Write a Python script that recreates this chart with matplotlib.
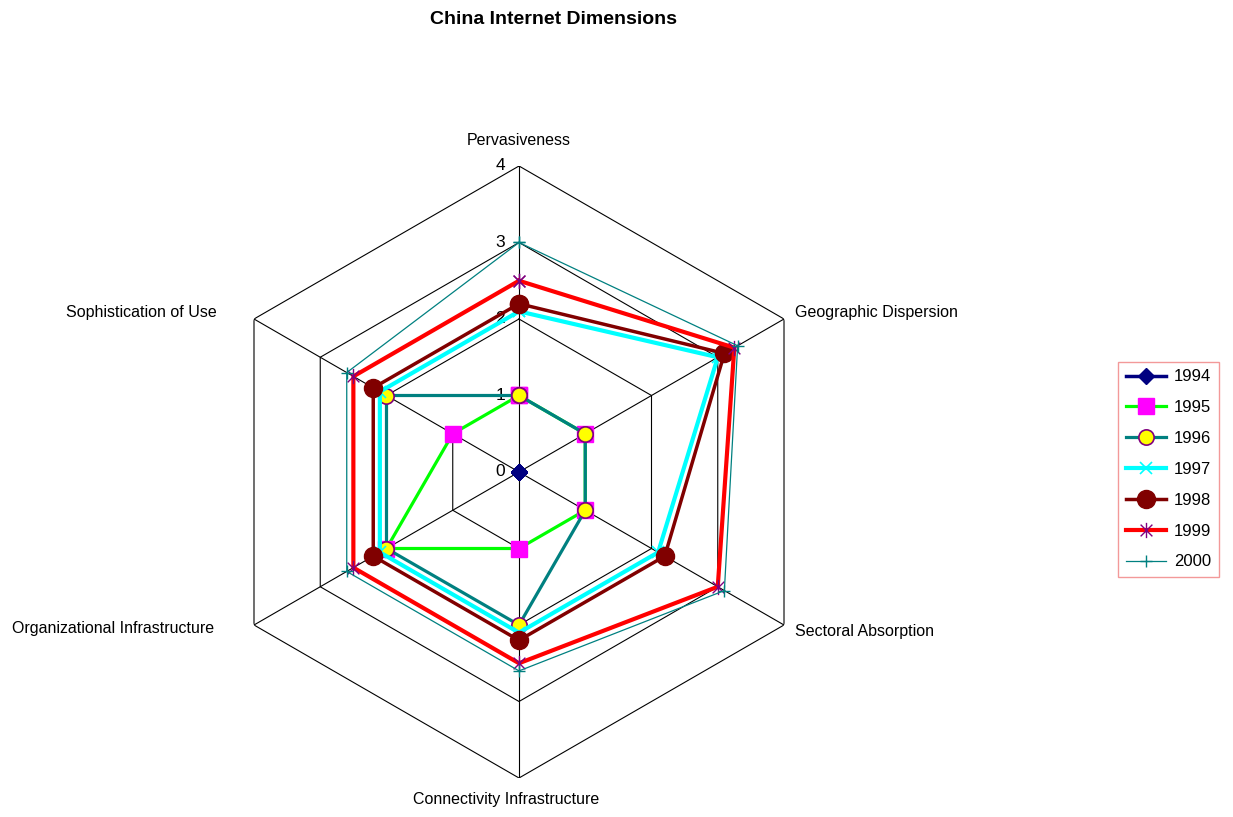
import numpy as np
import matplotlib
matplotlib.use("Agg")
import matplotlib.pyplot as plt
from matplotlib.path import Path
from matplotlib.transforms import offset_copy

plt.rcParams['font.family'] = ['Liberation Sans', 'DejaVu Sans']

# Dimensions (clockwise from top)
categories = ['Pervasiveness', 'Geographic Dispersion', 'Sectoral Absorption',
              'Connectivity Infrastructure', 'Organizational Infrastructure',
              'Sophistication of Use']
years = ['1994', '1995', '1996', '1997', '1998', '1999', '2000']
v1994 = [0, 0, 0, 0, 0, 0]
v1995 = [1, 1, 1, 1, 2, 1]
v1996 = [1, 1, 1, 2, 2, 2]
v1997 = [2.1, 3.0, 2.1, 2.1, 2.1, 2.1]
v1998 = [2.2, 3.1, 2.2, 2.2, 2.2, 2.2]
v1999 = [2.5, 3.25, 3.0, 2.5, 2.5, 2.5]
v2000 = [3.0, 3.3, 3.1, 2.6, 2.6, 2.6]
levels = [0, 1, 2, 3, 4]

series = [v1994, v1995, v1996, v1997, v1998, v1999, v2000]

# asterisk marker like the spreadsheet one: X with a vertical bar
star = Path([(-1, -1), (1, 1), (-1, 1), (1, -1), (0, -1.3), (0, 1.3)],
            [Path.MOVETO, Path.LINETO, Path.MOVETO, Path.LINETO, Path.MOVETO, Path.LINETO])

styles = [
    dict(color='#000080', lw=2.5, marker='D', ms=8, mfc='#000080', mec='#000080'),
    dict(color='#00FF00', lw=2.3, marker='s', ms=12, mfc='#FF00FF', mec='#FF00FF'),
    dict(color='#008080', lw=2.3, marker='o', ms=11, mfc='#FFFF00', mec='#800080', mew=1.2),
    dict(color='#00FFFF', lw=3, marker='x', ms=9, mfc='#00FFFF', mec='#00FFFF', mew=1.2),
    dict(color='#800000', lw=2.5, marker='o', ms=13, mfc='#800000', mec='#800000'),
    dict(color='#FF0000', lw=3, marker=star, ms=11, mfc='none', mec='#800080', mew=1.0),
    dict(color='#008080', lw=0.9, marker='+', ms=9, mfc='#008080', mec='#008080', mew=1.0),
]

n = len(categories)
theta = np.linspace(0, 2 * np.pi, n, endpoint=False)
theta_c = np.append(theta, theta[0])

fig = plt.figure(figsize=(12.33, 8.17), dpi=100)
ax = fig.add_axes([213 / 1233, 39 / 817, 612 / 1233, 612 / 817], projection='polar')
ax.set_theta_zero_location('N')
ax.set_theta_direction(-1)
ax.set_ylim(0, 4)
ax.grid(False)
ax.set_xticks([])
ax.set_yticks([])
ax.spines['polar'].set_visible(False)
ax.patch.set_alpha(0)

# hexagonal grid and spokes
for lv in levels[1:]:
    ax.plot(theta_c, [lv] * (n + 1), color='black', lw=0.8, zorder=1)
for t in theta:
    ax.plot([t, t], [0, levels[-1]], color='black', lw=0.8, zorder=1)

# radial value labels left of the top spoke
tr = offset_copy(ax.transData, fig=fig, x=-10, y=0, units='points')
for lv in levels:
    ax.text(0, lv, str(lv), transform=tr, ha='right', va='center', fontsize=12.5)

for yr, vals, st in zip(years, series, styles):
    ax.plot(theta_c, vals + vals[:1], label=yr, zorder=3, clip_on=False, **st)

# category labels: (angle in degrees, radius, alignment)
lab_pos = [(0, 4.33, 'center'), (60, 4.17, 'left'), (120, 4.17, 'left'),
           (182.3, 4.29, 'center'), (242.8, 4.48, 'right'), (297.8, 4.46, 'right')]
for name, (a, r, ha) in zip(categories, lab_pos):
    ax.text(np.deg2rad(a), r, name, ha=ha, va='center', fontsize=11.5)

fig.text(553 / 1233, 1 - 20 / 817, 'China Internet Dimensions', ha='center', va='center',
         fontsize=14, fontweight='bold')

leg = fig.legend(loc='upper left', bbox_to_anchor=(1118 / 1233, 1 - 362 / 817),
                 borderaxespad=0, fontsize=12, labelspacing=0.95, handlelength=2.4,
                 handletextpad=0.5, fancybox=False, frameon=True, borderpad=0.45)
leg.get_frame().set_edgecolor('#F08080')
leg.get_frame().set_linewidth(1.0)

fig.savefig('out.png', dpi=100)
